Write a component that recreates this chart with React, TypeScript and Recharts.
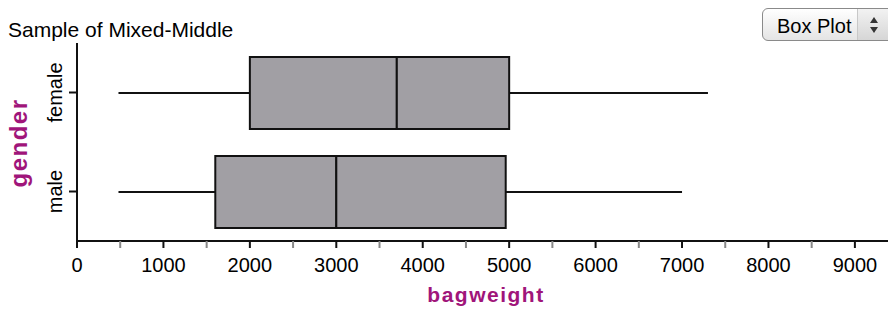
import { Bar, ComposedChart, XAxis, YAxis } from "recharts";

const categories = ["female", "male"];
const mins = [480, 480];
const q1s = [2000, 1600];
const medians = [3700, 3000];
const q3s = [5000, 4960];
const maxs = [7300, 7000];
const xTicks = [0, 500, 1000, 1500, 2000, 2500, 3000, 3500, 4000, 4500, 5000, 5500, 6000, 6500, 7000, 7500, 8000, 8500, 9000];
const xLabels = [0, 1000, 2000, 3000, 4000, 5000, 6000, 7000, 8000, 9000];

const data = categories.map((gender, i) => ({
  gender,
  base: mins[i],
  lowWhisker: q1s[i] - mins[i],
  lowBox: medians[i] - q1s[i],
  highBox: q3s[i] - medians[i],
  highWhisker: maxs[i] - q3s[i],
}));

const FONT = '"Liberation Sans", Arial, sans-serif';
const PURPLE = "#a0157a";
const BOX_FILL = "#a19fa4";

const Whisker = (props: any) => {
  const { x, y, width, height } = props;
  const cy = y + height / 2;
  return <line x1={x} x2={x + width} y1={cy} y2={cy} stroke="#111" strokeWidth={2} />;
};

const BoxPart = (props: any) => {
  const { x, y, width, height } = props;
  return <rect x={x} y={y} width={width} height={height} fill={BOX_FILL} stroke="#111" strokeWidth={2} />;
};

const XTick = (props: any) => {
  const { x, y, payload } = props;
  const major = xLabels.includes(payload.value);
  return (
    <g>
      <line x1={x} x2={x} y1={y} y2={y + 7} stroke={major ? "#111" : "#888"} strokeWidth={2} />
      {major && (
        <text x={x} y={y + 31} textAnchor="middle" fontFamily={FONT} fontSize={20} fill="#000">
          {payload.value}
        </text>
      )}
    </g>
  );
};

const YTick = (props: any) => {
  const { x, y, payload } = props;
  return (
    <g>
      <line x1={x - 8} x2={x} y1={y} y2={y} stroke="#111" strokeWidth={2} />
      <text
        x={x - 15}
        y={y}
        transform={`rotate(-90, ${x - 15}, ${y})`}
        textAnchor="middle"
        fontFamily={FONT}
        fontSize={20}
        fill="#000"
      >
        {payload.value}
      </text>
    </g>
  );
};

export default function App() {
  return (
    <div style={{ position: "absolute", left: 0, top: 0, width: 888, height: 311, background: "#fff", fontFamily: FONT }}>
      <div style={{ position: "absolute", left: 8, top: 20, fontSize: 21, lineHeight: "20px", color: "#000", whiteSpace: "nowrap" }}>
        Sample of Mixed-Middle
      </div>
      <div
        style={{
          position: "absolute",
          left: 762,
          top: 8,
          width: 140,
          height: 33,
          boxSizing: "border-box",
          border: "1px solid #8a8a8a",
          borderRadius: 6,
          background: "linear-gradient(#ffffff, #e4e4e4)",
        }}
      >
        <div style={{ position: "absolute", left: 14, top: 7, fontSize: 20, lineHeight: "20px", color: "#000" }}>Box Plot</div>
        <div
          style={{
            position: "absolute",
            left: 94,
            top: 0,
            width: 46,
            height: 31,
            background: "linear-gradient(#f2f2f2, #d6d6d6)",
            borderLeft: "1px solid #c8c8c8",
          }}
        >
          <div style={{ position: "absolute", left: 12, top: 8, width: 0, height: 0, borderLeft: "4px solid transparent", borderRight: "4px solid transparent", borderBottom: "6px solid #333" }} />
          <div style={{ position: "absolute", left: 12, top: 18, width: 0, height: 0, borderLeft: "4px solid transparent", borderRight: "4px solid transparent", borderTop: "6px solid #333" }} />
        </div>
      </div>
      <ComposedChart
        width={888}
        height={311}
        data={data}
        layout="vertical"
        margin={{ top: 43, right: 0, bottom: 40, left: 0 }}
        barCategoryGap={0}
      >
        <XAxis
          type="number"
          domain={[0, 9383]}
          ticks={xTicks}
          interval={0}
          height={30}
          tickSize={0}
          tickMargin={0}
          tick={<XTick />}
          axisLine={{ stroke: "#111", strokeWidth: 2 }}
          label={{
            content: (p: any) => {
              const vb = p.viewBox;
              return (
                <text x={486} y={vb.y + 61} textAnchor="middle" fontFamily={FONT} fontSize={21} fontWeight="bold" letterSpacing={1.5} fill={PURPLE}>
                  bagweight
                </text>
              );
            },
          }}
        />
        <YAxis
          type="category"
          dataKey="gender"
          width={77}
          tickSize={0}
          tickMargin={0}
          tick={<YTick />}
          axisLine={{ stroke: "#111", strokeWidth: 2 }}
          label={{
            content: (p: any) => {
              const vb = p.viewBox;
              const cy = vb.y + vb.height / 2 + 1;
              return (
                <text x={27} y={cy} transform={`rotate(-90, 27, ${cy})`} textAnchor="middle" fontFamily={FONT} fontSize={24} fontWeight="bold" letterSpacing={1.5} fill={PURPLE}>
                  gender
                </text>
              );
            },
          }}
        />
        <Bar dataKey="base" stackId="box" barSize={72} fill="none" shape={() => null} isAnimationActive={false} />
        <Bar dataKey="lowWhisker" stackId="box" barSize={72} shape={<Whisker />} isAnimationActive={false} />
        <Bar dataKey="lowBox" stackId="box" barSize={72} shape={<BoxPart />} isAnimationActive={false} />
        <Bar dataKey="highBox" stackId="box" barSize={72} shape={<BoxPart />} isAnimationActive={false} />
        <Bar dataKey="highWhisker" stackId="box" barSize={72} shape={<Whisker />} isAnimationActive={false} />
      </ComposedChart>
    </div>
  );
}
